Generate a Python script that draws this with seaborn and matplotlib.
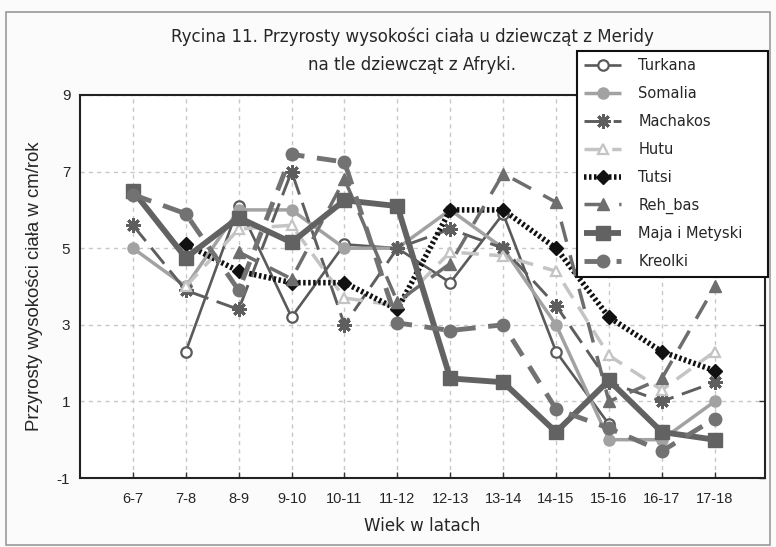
import numpy as np
import pandas as pd
import matplotlib
matplotlib.use("Agg")
import matplotlib.pyplot as plt
import seaborn as sns
from matplotlib.patches import Rectangle

# ---- data ----
age_groups = ["6-7", "7-8", "8-9", "9-10", "10-11", "11-12",
              "12-13", "13-14", "14-15", "15-16", "16-17", "17-18"]
nan = np.nan
turkana = [nan, 2.3, 6.1, 3.2, 5.1, 5.0, 4.1, 5.9, 2.3, 0.4, nan, nan]
somalia = [5.0, 4.0, 6.0, 6.0, 5.0, 5.0, 6.0, 5.0, 3.0, 0.0, 0.0, 1.0]
machakos = [5.6, 3.9, 3.4, 7.0, 3.0, 5.0, 5.5, 5.0, 3.5, 1.5, 1.0, 1.5]
hutu = [nan, 4.0, 5.5, 5.6, 3.7, 3.5, 4.9, 4.8, 4.4, 2.2, 1.3, 2.3]
tutsi = [nan, 5.1, 4.4, 4.1, 4.1, 3.4, 6.0, 6.0, 5.0, 3.2, 2.3, 1.8]
reh_bas = [nan, nan, 4.9, 4.2, 6.8, 3.6, 4.6, 6.95, 6.2, 1.0, 1.6, 4.0]
maja = [6.5, 4.75, 5.8, 5.15, 6.25, 6.1, 1.6, 1.5, 0.2, 1.55, 0.2, 0.0]
kreolki = [6.4, 5.9, 3.9, 7.45, 7.25, 3.05, 2.85, 3.0, 0.8, 0.3, -0.3, 0.55]

series_names = ["Turkana", "Somalia", "Machakos", "Hutu", "Tutsi",
                "Reh_bas", "Maja i Metyski", "Kreolki"]
series_values = [turkana, somalia, machakos, hutu, tutsi, reh_bas, maja, kreolki]

y_ticks = [-1, 1, 3, 5, 7, 9]

# ---- styles ----
styles = {
    "Turkana": dict(color="#5a5a5a", lw=1.9, dashes=None, marker="o", ms=7.5,
                    mfc="white", mec="#5a5a5a", mew=1.6),
    "Somalia": dict(color="#a2a2a2", lw=2.5, dashes=None, marker="o", ms=8,
                    mfc="#a2a2a2", mec="#a2a2a2", mew=1),
    "Machakos": dict(color="#5e5e5e", lw=2.1, dashes=(7, 3), marker=(8, 2, 0), ms=10.5,
                     mfc="#5e5e5e", mec="#5e5e5e", mew=2.1),
    "Hutu": dict(color="#c4c4c4", lw=2.5, dashes=(5, 3), marker="^", ms=7.5,
                 mfc="white", mec="#c4c4c4", mew=1.6),
    "Tutsi": dict(color="#111111", lw=4.0, dashes=(0.45, 0.45), marker="D", ms=7.5,
                  mfc="#111111", mec="#111111", mew=1),
    "Reh_bas": dict(color="#6e6e6e", lw=2.5, dashes=(6, 4), marker="^", ms=8.5,
                    mfc="#6e6e6e", mec="#6e6e6e", mew=1),
    "Maja i Metyski": dict(color="#626262", lw=4.2, dashes=None, marker="s", ms=9.5,
                           mfc="#626262", mec="#626262", mew=1),
    "Kreolki": dict(color="#727272", lw=3.5, dashes=(4, 2.6), marker="o", ms=9,
                    mfc="#727272", mec="#727272", mew=1),
}

sns.set_theme(style="white")
plt.rcParams["font.family"] = ["DejaVu Sans"]

fig = plt.figure(figsize=(7.76, 5.47), dpi=100)
fig.patch.set_facecolor("#fbfbfb")
ax = fig.add_axes([80 / 776, 1 - 478 / 547, (765 - 80) / 776, (478 - 95) / 547])
ax.set_facecolor("white")

x_pos = np.arange(len(age_groups))
for name, vals in zip(series_names, series_values):
    st = styles[name]
    df = pd.DataFrame({"x": x_pos, "y": vals}).dropna()
    kws = dict(color=st["color"], lw=st["lw"], marker=st["marker"], markersize=st["ms"],
               markerfacecolor=st["mfc"], markeredgecolor=st["mec"], markeredgewidth=st["mew"])
    sns.lineplot(data=df, x="x", y="y", ax=ax, label=name, **kws)
    ln = ax.lines[-1]
    if st["dashes"] is not None:
        ln.set_dashes(st["dashes"])
    ln.set_solid_capstyle("butt")
    ln.set_dash_capstyle("butt")

ax.set_xlim(-1.0, 11.95)
ax.set_ylim(-1, 9)
ax.set_xticks(x_pos)
ax.set_xticklabels(age_groups, fontsize=10.5, family="Liberation Sans")
ax.set_yticks(y_ticks)
ax.set_yticklabels([str(v) for v in y_ticks], fontsize=11, family="Liberation Sans")
ax.tick_params(axis="both", direction="in", length=4, width=1, color="#333333",
               pad=10, right=True, bottom=True, left=False, top=False)
ax.tick_params(axis="y", pad=7)
ax.grid(True, linestyle=(0, (3, 3)), color="#c8c8c8", lw=1)
ax.set_axisbelow(True)
for sp in ax.spines.values():
    sp.set_visible(True)
    sp.set_color("#222222")
    sp.set_linewidth(1.5)

ax.set_xlabel("Wiek w latach", fontsize=13.3, labelpad=8, stretch="condensed")
ax.set_ylabel("Przyrosty wysokości ciała w cm/rok", fontsize=13.4, labelpad=10,
              family="Liberation Sans")

fig.text(412 / 776, 1 - 37 / 547, "Rycina 11. Przyrosty wysokości ciała u dziewcząt z Meridy",
         ha="center", va="center", fontsize=13.3, stretch="condensed")
fig.text(412 / 776, 1 - 65 / 547, "na tle dziewcząt z Afryki.",
         ha="center", va="center", fontsize=13.3, stretch="condensed")

leg_top = 1 - 51 / 547
leg_h = (282 - 51) / 547
leg = ax.legend(loc="upper left", bbox_to_anchor=(577 / 776, leg_top - leg_h, 191 / 776, leg_h),
                bbox_transform=fig.transFigure, mode="expand", frameon=True, fancybox=False,
                fontsize=10.5, handlelength=2.5, labelspacing=0.88, borderpad=0.5,
                handletextpad=1.2, borderaxespad=0)
leg.get_frame().set_edgecolor("#111111")
leg.get_frame().set_linewidth(1.5)
leg.get_frame().set_facecolor("white")
leg.get_frame().set_alpha(1)
leg.set_zorder(10)

fig.patches.append(Rectangle((6 / 776, 2 / 547), 764 / 776, (545 - 12) / 547,
                             transform=fig.transFigure, fill=False,
                             edgecolor="#999999", lw=1.2))

fig.savefig("out.png", dpi=100, facecolor=fig.get_facecolor())
